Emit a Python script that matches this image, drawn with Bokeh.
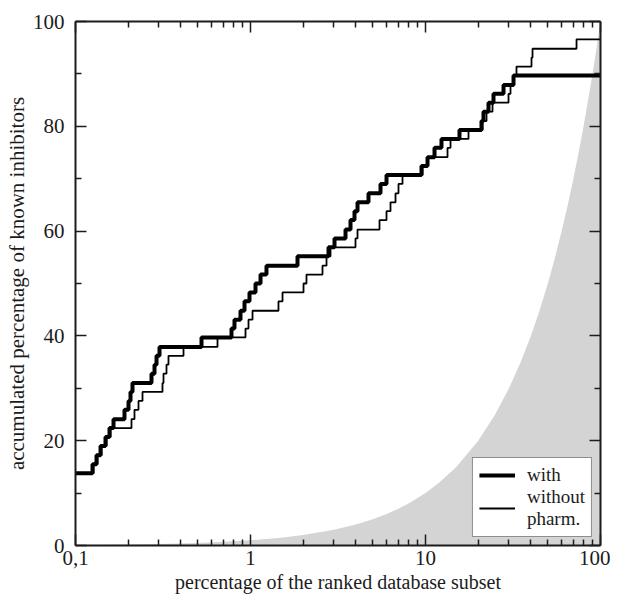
from bokeh.plotting import figure
from bokeh.models import LogAxis, LinearAxis, FixedTicker, Range1d, Legend, LegendItem
from bokeh.embed import file_html
from bokeh.resources import INLINE

# ---- data ----
with_x = [0.1, 0.1251, 0.1318, 0.139, 0.1484, 0.1564, 0.1649, 0.1905, 0.2009, 0.2062,
          0.2117, 0.2718, 0.2828, 0.2904, 0.302, 0.5248, 0.7788, 0.81, 0.8767, 0.9241,
          0.9869, 1.068, 1.141, 1.234, 1.856, 2.791, 3.02, 3.491, 3.728, 3.929,
          4.088, 4.724, 5.532, 5.987, 9.487, 10.27, 11.26, 12.34, 15.64, 20.89,
          21.45, 22.91, 24.47, 27.91, 31.84, 100]
with_y = [13.8, 15.5, 17.2, 19.0, 20.7, 22.4, 24.1, 25.9, 27.6, 29.3,
          31.0, 32.8, 34.5, 36.2, 37.9, 39.7, 41.4, 43.1, 44.8, 46.6,
          48.3, 50.0, 51.7, 53.4, 55.2, 56.9, 58.6, 60.3, 62.1, 63.8,
          65.5, 67.2, 69.0, 70.7, 72.4, 74.1, 75.9, 77.6, 79.3, 81.0,
          82.8, 84.5, 86.2, 87.9, 89.7, 89.7]

without_x = [0.1, 0.1267, 0.1335, 0.1408, 0.1504, 0.1585, 0.2089, 0.2173, 0.2291, 0.2415,
             0.3141, 0.3183, 0.3311, 0.3399, 0.4142, 0.6478, 0.9363, 0.974, 1.027, 1.445,
             1.524, 2.009, 2.089, 2.579, 2.719, 2.865, 3.981, 4.088, 5.46, 5.987,
             6.31, 6.74, 7.01, 7.39, 9.61, 10.27, 13.36, 13.9, 17.61, 21.17,
             22.32, 24.15, 29.81, 30.6, 31.84, 33.11, 40.34, 40.88, 72.95, 100]
without_y = [13.8, 15.5, 17.2, 19.0, 20.7, 22.4, 24.1, 25.9, 27.6, 29.3,
             31.0, 32.8, 34.5, 36.2, 37.9, 39.7, 41.4, 43.1, 44.8, 46.6,
             48.3, 50.0, 51.7, 53.4, 55.2, 56.9, 58.6, 60.3, 62.1, 63.8,
             65.5, 67.2, 69.0, 70.7, 72.4, 74.1, 75.9, 77.6, 79.3, 81.0,
             82.8, 84.5, 86.2, 87.9, 89.7, 91.4, 93.1, 94.8, 96.6, 96.6]

# random-selection baseline (percentage found = percentage screened)
random_x = [0.1, 0.2, 0.3, 0.5, 0.7, 1, 1.5, 2, 3, 4, 5, 6, 7, 8, 10, 12, 15, 20, 25,
            30, 35, 40, 45, 50, 55, 60, 65, 70, 75, 80, 85, 90, 95, 100]
random_y = [0.1, 0.2, 0.3, 0.5, 0.7, 1, 1.5, 2, 3, 4, 5, 6, 7, 8, 10, 12, 15, 20, 25,
            30, 35, 40, 45, 50, 55, 60, 65, 70, 75, 80, 85, 90, 95, 100]

x_ticks = [0.1, 1, 10, 100]
x_tick_labels = ["0,1", "1", "10", "100"]
x_minor = [0.2, 0.3, 0.4, 0.5, 0.6, 0.7, 0.8, 0.9, 2, 3, 4, 5, 6, 7, 8, 9,
           20, 30, 40, 50, 60, 70, 80, 90]
y_ticks = [0, 20, 40, 60, 80, 100]
y_minor = [10, 30, 50, 70, 90]

FONT = "Liberation Serif"
INK = "#1c1c1c"

p = figure(x_axis_type="log", x_range=Range1d(0.1, 100), y_range=Range1d(0, 100),
           frame_width=525, frame_height=524,
           min_border_left=75, min_border_right=10, min_border_top=21, min_border_bottom=50,
           output_backend="svg", toolbar_location=None, background_fill_color="white")
p.grid.visible = False
p.outline_line_color = None

p.varea(x=random_x, y1=0, y2=random_y, fill_color="#d4d4d4", fill_alpha=1.0)

r_with = p.step(x=with_x, y=with_y, mode="after", line_color="black", line_width=4)
r_without = p.step(x=without_x, y=without_y, mode="after", line_color="black", line_width=1.8)


def style(ax, labels=True):
    ax.axis_line_color = INK
    ax.axis_line_width = 2
    ax.major_tick_line_color = INK
    ax.minor_tick_line_color = INK
    ax.major_tick_line_width = 1.5
    ax.minor_tick_line_width = 1.5
    ax.major_tick_in = 11
    ax.major_tick_out = 0
    ax.minor_tick_in = 6
    ax.minor_tick_out = 0
    ax.major_label_text_font = FONT
    ax.major_label_text_font_size = "21px"
    ax.major_label_text_color = INK
    ax.axis_label_text_font = FONT
    ax.axis_label_text_font_size = "20px"
    ax.axis_label_text_font_style = "normal"
    ax.axis_label_text_color = INK
    if not labels:
        ax.major_label_text_alpha = 0
        ax.major_label_text_font_size = "1px"
        ax.major_label_standoff = 0


xt = FixedTicker(ticks=x_ticks, minor_ticks=x_minor)
yt = FixedTicker(ticks=y_ticks, minor_ticks=y_minor)

p.xaxis.ticker = xt
p.yaxis.ticker = yt
p.xaxis.major_label_overrides = {t: l for t, l in zip(x_ticks, x_tick_labels)}
p.xaxis.axis_label = "percentage of the ranked database subset"
p.yaxis.axis_label = "accumulated percentage of known inhibitors"
for ax in p.xaxis + p.yaxis:
    style(ax)
p.yaxis.axis_label_text_font_size = "21px"
p.xaxis.major_label_standoff = 5
p.xaxis.axis_label_standoff = 3
p.yaxis.major_label_standoff = 11
p.yaxis.axis_label_standoff = 1

top = LogAxis(ticker=FixedTicker(ticks=x_ticks, minor_ticks=x_minor))
style(top, labels=False)
p.add_layout(top, "above")
right = LinearAxis(ticker=FixedTicker(ticks=y_ticks, minor_ticks=y_minor))
style(right, labels=False)
p.add_layout(right, "right")

legend = Legend(items=[LegendItem(label="with", renderers=[r_with]),
                       LegendItem(label="without\npharm.", renderers=[r_without])],
                location="bottom_right")
legend.label_text_font = FONT
legend.label_text_font_size = "19px"
legend.label_text_color = INK
legend.label_text_line_height = 1.0
legend.border_line_color = INK
legend.border_line_width = 1.5
legend.background_fill_alpha = 1
legend.glyph_width = 36
legend.label_standoff = 12
legend.spacing = 0
legend.padding = 6
legend.margin = 8
p.add_layout(legend, "center")

open("out.html", "w").write(file_html(p, INLINE))
